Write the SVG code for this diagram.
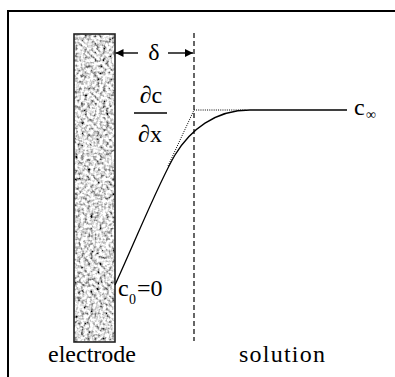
<svg xmlns="http://www.w3.org/2000/svg" width="395" height="377" viewBox="0 0 395 377">
<style>
text{font-family:"Liberation Serif","Times New Roman",Times,Tinos,"Noto Serif","Nimbus Roman","Nimbus Roman No9 L",FreeSerif,"DejaVu Serif",serif;fill:#000}
.lbl{font-size:24px}
.sub{font-size:14px}
.conn{fill:none;stroke:#000}
</style>
<defs>
<filter id="grain" x="0" y="0" width="1" height="1" filterUnits="objectBoundingBox">
<feTurbulence type="fractalNoise" baseFrequency="0.32" numOctaves="2" seed="3" result="n"/>
<feColorMatrix in="n" type="matrix" values="2.4 0 0 0 -0.48  2.4 0 0 0 -0.48  2.4 0 0 0 -0.48  0 0 0 0 1" result="g"/>
<feComposite in="g" in2="SourceGraphic" operator="in"/>
</filter>
<marker id="ah" viewBox="0 0 10 10" refX="10" refY="5" markerWidth="9" markerHeight="8" markerUnits="userSpaceOnUse" orient="auto">
<path d="M0,0 L10,5 L0,10 Z" fill="#000"/>
</marker>
</defs>
<rect width="395" height="377" fill="#fff"/>
<path d="M8,377 V11 H395" fill="none" stroke="#000" stroke-width="2"/>
<g id="electrode">
<rect x="74" y="34" width="41" height="308" fill="#b5b5b5" filter="url(#grain)"/>
<rect x="74" y="34" width="41" height="308" fill="none" stroke="#222" stroke-width="1.6"/>
<text class="lbl" x="92" y="362" text-anchor="middle">electrode</text>
</g>
<g id="boundary">
<line x1="194" y1="33" x2="194" y2="341" stroke="#000" stroke-width="1.2" stroke-dasharray="5,3"/>
</g>
<g id="solution">
<text class="lbl" x="282" y="362" text-anchor="middle" textLength="86">solution</text>
</g>
<g id="connectors">
<line class="conn" x1="138" y1="53" x2="115.5" y2="53" stroke-width="1.4" marker-end="url(#ah)"/>
<line class="conn" x1="168" y1="53" x2="193" y2="53" stroke-width="1.4" marker-end="url(#ah)"/>
<path class="conn" d="M168,166 L194,110 L246,110" stroke="#555" stroke-width="1" stroke-dasharray="1,1.2"/>
<path class="conn" d="M115,285 C140,230 160,180 175,155 C190,130 215,110 250,110 L347,110" stroke-width="1.3"/>
</g>
<g id="delta">
<text class="lbl" x="154" y="60" text-anchor="middle">δ</text>
</g>
<g id="gradient">
<text class="lbl" x="151" y="103" text-anchor="middle">∂c</text>
<line x1="134" y1="113" x2="167" y2="113" stroke="#000" stroke-width="1.4"/>
<text class="lbl" x="150" y="142" text-anchor="middle">∂x</text>
</g>
<g id="cinf">
<text class="lbl" x="354" y="115">c</text>
<text class="sub" x="366" y="119">∞</text>
</g>
<g id="c0">
<text class="lbl" x="118" y="296">c</text>
<text class="sub" x="129" y="304">0</text>
<text class="lbl" x="137" y="296">=0</text>
</g>
</svg>
